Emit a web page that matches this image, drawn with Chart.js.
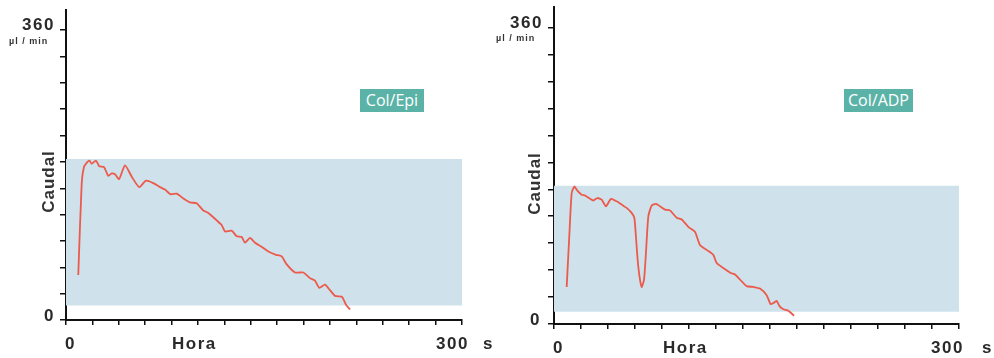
<!DOCTYPE html>
<html lang="es">
<head>
    <meta charset="UTF-8">
    <title>Caudal - Col/Epi y Col/ADP</title>
    <script src="https://cdn.jsdelivr.net/npm/chart.js"></script>
    <style>
        body {
            margin: 0;
            background: #ffffff;
            font-family: 'Liberation Sans', Arial, sans-serif;
            color: #222;
        }
        .stage {
            position: relative;
            width: 994px;
            height: 358px;
            overflow: hidden;
        }
        .panel {
            position: absolute;
            top: 0;
            width: 497px;
            height: 358px;
        }
        .lbl {
            position: absolute;
            white-space: nowrap;
            line-height: 1;
        }
        .big {
            font-size: 17px;
            font-weight: bold;
            letter-spacing: 1.5px;
            color: #2a2a2a;
        }
        .unit {
            font-size: 9px;
            font-weight: bold;
            letter-spacing: 1px;
            color: #333;
        }
        .caudal {
            font-size: 17px;
            font-weight: bold;
            letter-spacing: 1px;
            color: #333;
            transform: rotate(-90deg);
            transform-origin: center center;
        }
        .tag {
            position: absolute;
            background: #5bb3a8;
            color: #ffffff;
            font-family: 'Open Sans', sans-serif;
            font-size: 16px;
            height: 23px;
            line-height: 23px;
            text-align: center;
        }
    </style>
</head>
<body>
<div class="stage">
    <div class="panel" style="left:0"><canvas id="chartEpi"></canvas></div>
    <div class="panel" style="left:497px"><canvas id="chartAdp"></canvas></div>

    <!-- left panel text -->
    <div class="lbl big" style="left:22px;top:16px">360</div>
    <div class="lbl unit" style="left:9px;top:37px">µl / min</div>
    <div class="lbl caudal" style="left:17px;top:173px">Caudal</div>
    <div class="lbl big" style="left:44px;top:307px">0</div>
    <div class="lbl big" style="left:65px;top:335px">0</div>
    <div class="lbl big" style="left:172px;top:335px">Hora</div>
    <div class="lbl big" style="left:436px;top:335px">300</div>
    <div class="lbl big" style="left:483px;top:335px">s</div>
    <div class="tag" style="left:360px;top:89px;width:64px">Col/Epi</div>

    <!-- right panel text -->
    <div class="lbl big" style="left:510px;top:14px">360</div>
    <div class="lbl unit" style="left:496px;top:34px">µl / min</div>
    <div class="lbl caudal" style="left:503px;top:175px">Caudal</div>
    <div class="lbl big" style="left:530px;top:311px">0</div>
    <div class="lbl big" style="left:553px;top:339px">0</div>
    <div class="lbl big" style="left:663px;top:339px">Hora</div>
    <div class="lbl big" style="left:931px;top:339px">300</div>
    <div class="lbl big" style="left:982px;top:339px">s</div>
    <div class="tag" style="left:844px;top:89px;width:69px">Col/ADP</div>
</div>

<script>
    const epiTime = [9.3, 11.9, 13.6, 16.1, 17.7, 19.5, 22.7, 25.2, 28.8, 32, 34.6, 37.1, 40.2, 44.7, 49.8, 55.5,
        60.6, 66.1, 71.2, 75, 79.3, 83.8, 88.9, 93.9, 99, 104, 107.8, 114, 117.9, 120.5, 125.5, 129.3, 133.1,
        135.6, 139.4, 143.2, 148.2, 153.3, 159.1, 163.4, 167.2, 173.5, 179.8, 184.8, 188.6, 191.9, 196.2, 200,
        203.8, 208.9, 210.1, 212.1, 215.2];
    const epiFlow = [56, 170, 190, 196, 198, 194, 198, 191, 190, 179, 182, 181, 175, 192, 178, 165,
        173, 170, 165, 162, 156, 157, 151, 146, 145, 136, 133, 124, 118, 110, 111, 104, 103,
        96, 102, 96, 91, 85, 81, 79, 69, 59, 59, 52, 49, 40, 44, 37,
        30, 29, 26, 19, 13];

    // Col/ADP
    const adpTime = [9.4, 11.3, 13.1, 15.1, 17.3, 20.5, 23, 26.7, 29.1, 32.1, 35.3, 38.5, 42.2, 46.4, 50.1,
        53.8, 57.5, 59.5, 60.7, 62.4, 64.9, 66.7, 68.1, 69.9, 72.4, 75.6, 78.5, 82.2, 85.9, 90.9, 94.6,
        99.5, 104.4, 108.1, 113.1, 118, 120.5, 125.4, 130.9, 134.1, 137.8, 142.7, 147.7, 152.6, 157.5,
        160.5, 163, 165, 166.9, 169.9, 173.6, 177.8];
    const adpFlow = [45, 106, 159, 167, 162, 157, 156, 152, 150, 153, 151, 143, 152, 149, 145,
        141, 135, 129, 106, 70, 45, 54, 86, 131, 144, 146, 143, 139, 138, 129, 127,
        118, 112, 96, 90, 84, 74, 68, 62, 60, 54, 46, 45, 43, 35,
        24, 26, 28, 22, 18, 16, 10];

    // banda de referencia [inferior, superior]
    const epiBand = [18, 200];
    const adpBand = [15, 168];

    const xRange = [0, 300];
    const xTicks = [0, 20, 40, 60, 80, 100, 120, 140, 160, 180, 200, 220, 240, 260, 280, 300];
    const yTicks = [0, 32.7, 65.5, 98.2, 130.9, 163.6, 196.4, 229.1, 261.8, 294.5, 327.3, 360];
    const yTop = 385;

    function makeChart(id, times, flows, band, box) {
        const line = times.map((t, i) => ({ x: t, y: flows[i] }));
        const bandLow = xRange.map(x => ({ x: x, y: band[0] }));
        const bandHigh = xRange.map(x => ({ x: x, y: band[1] }));

        const axisColor = '#111';
        return new Chart(document.getElementById(id), {
            type: 'line',
            data: {
                datasets: [
                    { data: bandLow, borderWidth: 0, pointRadius: 0, fill: false, order: 2 },
                    { data: bandHigh, borderWidth: 0, pointRadius: 0, fill: '-1', backgroundColor: '#cfe2eb', order: 1 },
                    { data: line, borderColor: '#ec5a4b', borderWidth: 1.8, pointRadius: 0, tension: 0.2, fill: false, order: 0 }
                ]
            },
            options: {
                responsive: false,
                animation: false,
                events: [],
                layout: { padding: { left: 0, right: box.right, top: box.top, bottom: 0 } },
                plugins: { legend: { display: false }, tooltip: { enabled: false } },
                scales: {
                    x: {
                        type: 'linear',
                        min: xRange[0],
                        max: xRange[1],
                        afterBuildTicks: s => { s.ticks = xTicks.map(v => ({ value: v })); },
                        afterFit: s => { s.height = box.xHeight; },
                        ticks: { display: false },
                        grid: { drawOnChartArea: false, color: axisColor, lineWidth: 1.5, tickLength: 5 },
                        border: { color: axisColor, width: 2 }
                    },
                    y: {
                        min: 0,
                        max: yTop,
                        afterBuildTicks: s => { s.ticks = yTicks.map(v => ({ value: v })); },
                        afterFit: s => { s.width = box.yWidth; },
                        ticks: { display: false },
                        grid: { drawOnChartArea: false, color: axisColor, lineWidth: 1.5, tickLength: 6 },
                        border: { color: axisColor, width: 2 }
                    }
                }
            }
        });
    }

    function sizeCanvas(id) {
        const c = document.getElementById(id);
        c.width = 497;
        c.height = 358;
        c.style.width = '497px';
        c.style.height = '358px';
    }

    sizeCanvas('chartEpi');
    sizeCanvas('chartAdp');

    makeChart('chartEpi', epiTime, epiFlow, epiBand, { yWidth: 66, xHeight: 38, top: 10, right: 35 });
    makeChart('chartAdp', adpTime, adpFlow, adpBand, { yWidth: 57, xHeight: 34, top: 7, right: 35 });
</script>
</body>
</html>
